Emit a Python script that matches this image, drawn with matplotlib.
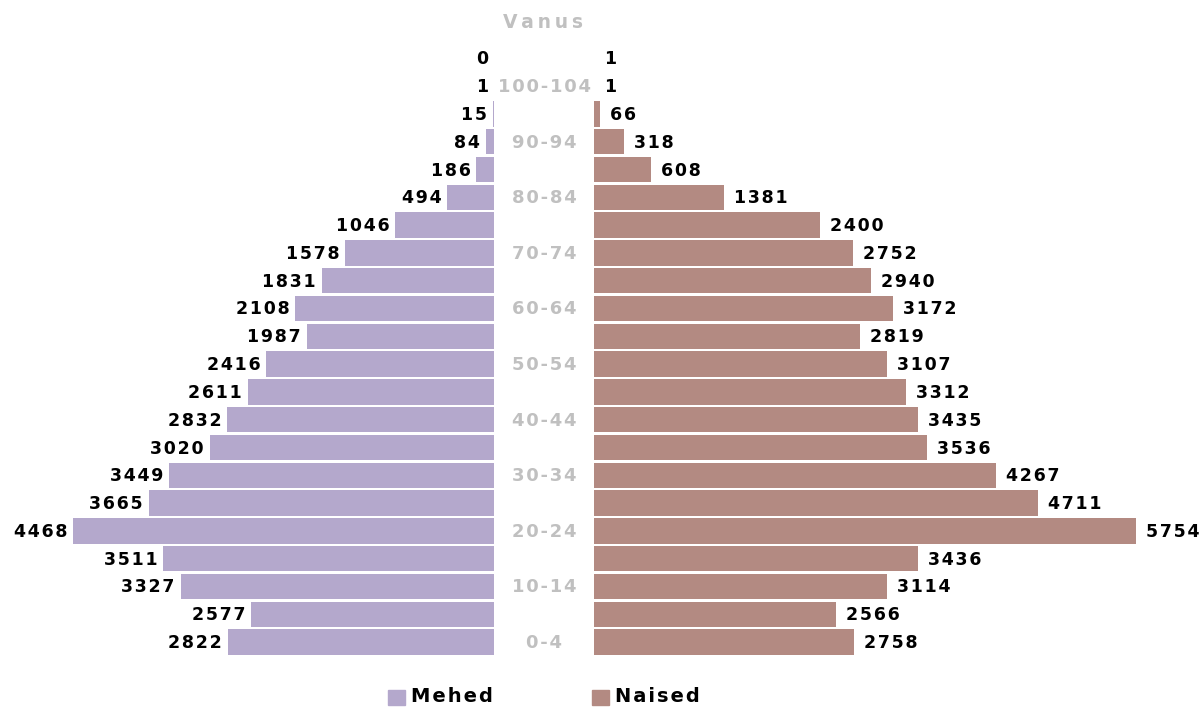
import matplotlib.pyplot as plt

# age groups, bottom to top
ages = ['0-4', '5-9', '10-14', '15-19', '20-24', '25-29', '30-34', '35-39',
        '40-44', '45-49', '50-54', '55-59', '60-64', '65-69', '70-74', '75-79',
        '80-84', '85-89', '90-94', '95-99', '100-104', '105+']
men = [2822, 2577, 3327, 3511, 4468, 3665, 3449, 3020, 2832, 2611, 2416,
       1987, 2108, 1831, 1578, 1046, 494, 186, 84, 15, 1, 0]
women = [2758, 2566, 3114, 3436, 5754, 4711, 4267, 3536, 3435, 3312, 3107,
         2819, 3172, 2940, 2752, 2400, 1381, 608, 318, 66, 1, 1]

men_color = '#b4a8cc'
women_color = '#b38a82'
label_gray = '#c0c0c0'
font = 'DejaVu Sans'
fs = 12.5


def spaced(s, sep='\u200a'):
    # imitate the letter spacing of the original
    return sep.join(str(s))


W, H = 1204, 708
fig = plt.figure(figsize=(W / 100, H / 100), dpi=100)

px_per_unit = 0.0942
bottom = 52 / H
height = 611.6 / H
ax_l = fig.add_axes([0, bottom, 494 / W, height])
ax_r = fig.add_axes([594 / W, bottom, 610 / W, height])

y = list(range(len(ages)))
ax_l.barh(y, men, height=0.92, color=men_color)
ax_r.barh(y, women, height=0.92, color=women_color)

ax_l.set_xlim(494 / px_per_unit, 0)
ax_r.set_xlim(0, 610 / px_per_unit)
for ax in (ax_l, ax_r):
    ax.set_ylim(-0.5, len(ages) - 0.5)
    ax.axis('off')

for i in y:
    ax_l.annotate(spaced(men[i]), (men[i], i), xytext=(-6, -1),
                  textcoords='offset pixels', ha='right', va='center',
                  fontsize=fs, fontweight='bold', family=font, color='black')
    ax_r.annotate(spaced(women[i]), (women[i], i), xytext=(10, -1),
                  textcoords='offset pixels', ha='left', va='center',
                  fontsize=fs, fontweight='bold', family=font, color='black')
    if i % 2 == 0 and i < len(ages) - 1:
        ax_r.annotate(spaced(ages[i]), (0, i), xytext=(-50, -1),
                      textcoords='offset pixels', ha='center', va='center',
                      fontsize=13, fontweight='bold', family=font,
                      color=label_gray)

fig.text(543 / W, 1 - 22 / H, spaced('Vanus', '\u2009'), ha='center',
         va='center', fontsize=13.5, fontweight='bold', family=font,
         color=label_gray)

# legend
for x0, txt, col in [(388, 'Mehed', men_color), (592, 'Naised', women_color)]:
    fig.patches.append(plt.Rectangle((x0 / W, 1 - 705 / H), 17 / W, 15 / H,
                                     transform=fig.transFigure, color=col))
    fig.text((x0 + 23) / W, 1 - 697 / H, spaced(txt), ha='left',
             va='center', fontsize=14, fontweight='bold', family=font,
             color='black')

fig.savefig('out.png', dpi=100)
